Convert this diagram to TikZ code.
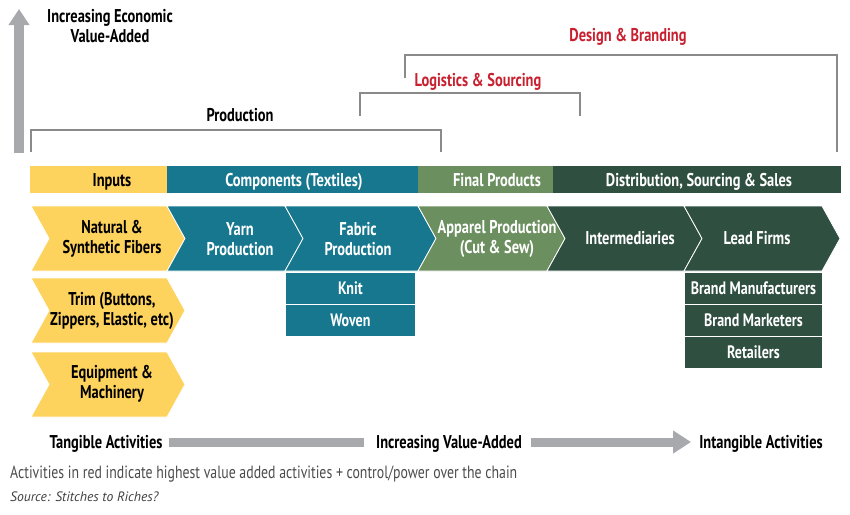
\documentclass[tikz,border=0pt]{standalone}
\usepackage{fontspec}
\setmainfont[FakeStretch=0.78]{PT Sans}
\newfontfamily\plainfont{PT Sans}
\usetikzlibrary{arrows.meta}
\definecolor{cyel}{HTML}{FDD35D}
\definecolor{cteal}{HTML}{16778F}
\definecolor{cgreen}{HTML}{6B8F5F}
\definecolor{cdark}{HTML}{2F4F40}
\definecolor{cred}{HTML}{C8202F}
\definecolor{cgray}{HTML}{A7A9AC}
\definecolor{cbrk}{HTML}{8A8A8A}
\newcommand\chevron[5]{% L R T B color
  \fill[#5,draw=white,line width=0.8pt] (#1,#3) -- (#2,#3) -- (#2+18,{(#3+#4)/2}) -- (#2,#4) -- (#1,#4) -- (#1+18,{(#3+#4)/2}) -- cycle;}
\begin{document}
\begin{tikzpicture}[x=1pt,y=-1pt,
  lbl/.style={font=\fontsize{18.5}{20}\selectfont\bfseries, align=center, inner sep=0pt},
  wlbl/.style={lbl, text=white},
  blbl/.style={lbl, text=black},
  barlbl/.style={font=\fontsize{18.5}{20}\selectfont\bfseries, inner sep=0pt, text height=13pt, text depth=0.5pt},
  brk/.style={draw=cbrk, line width=1.3pt},
  subbox/.style={draw=white, line width=0.8pt, minimum height=32pt, inner sep=0pt, text=white, text height=13pt, text depth=0.5pt, font=\fontsize{18}{20}\selectfont\bfseries}
]
\useasboundingbox (0,0) rectangle (850,514);
% vertical arrow
\coordinate (va1) at (19,153);
\coordinate (va2) at (19,9);
\draw[cgray, line width=10pt, -{Triangle[length=16pt,width=20pt]}] (va1) -- (va2);
\node[font=\fontsize{18.5}{20}\selectfont\bfseries, inner sep=0pt, align=center] (vtitle) at (110,26) {Increasing Economic\\Value-Added};
% brackets
\node[barlbl] (prodl) at (240,115) {Production};
\coordinate (p1) at (31,152); \coordinate (p2) at (31,130); \coordinate (p3) at (441,130); \coordinate (p4) at (441,152);
\draw[brk] (p1) -- (p2) -- (p3) -- (p4);
\node[barlbl, text=cred] (logl) at (478,80) {Logistics \& Sourcing};
\coordinate (l1) at (360,116); \coordinate (l2) at (360,93); \coordinate (l3) at (580,93); \coordinate (l4) at (580,116);
\draw[brk] (l1) -- (l2) -- (l3) -- (l4);
\node[barlbl, text=cred] (desl) at (628,35) {Design \& Branding};
\coordinate (d1) at (405,78); \coordinate (d2) at (405,55); \coordinate (d3) at (837,55); \coordinate (d4) at (837,152);
\draw[brk] (d1) -- (d2) -- (d3) -- (d4);
% top bar
\fill[cyel] (30,166) rectangle (167,193);
\fill[cteal] (167,166) rectangle (418,193);
\fill[cgreen] (418,166) rectangle (553,193);
\fill[cdark] (553,166) rectangle (841,193);
\node[barlbl] (b1) at (112,180) {Inputs};
\node[barlbl, text=white] (b2) at (294,180) {Components (Textiles)};
\node[barlbl, text=white] (b3) at (497,180) {Final Products};
\node[barlbl, text=white] (b4) at (699,180) {Distribution, Sourcing \& Sales};
% chevrons
\chevron{31}{167}{206}{271}{cyel}
\chevron{167}{285}{206}{271}{cteal}
\chevron{285}{418}{206}{271}{cteal}
\chevron{418}{547}{206}{271}{cgreen}
\chevron{547}{684}{206}{271}{cdark}
\chevron{684}{822}{206}{271}{cdark}
\chevron{31}{167}{278}{343}{cyel}
\chevron{31}{167}{352}{417}{cyel}
\node[blbl] (n1) at (112,239) {Natural \&\\Synthetic Fibers};
\node[wlbl] (n2) at (240,239) {Yarn\\Production};
\node[wlbl] (n3) at (358,239) {Fabric\\Production};
\node[wlbl] (n4) at (497,239) {Apparel Production\\(Cut \& Sew)};
\node[wlbl, text height=13pt, text depth=0.5pt] (n5) at (630,238) {Intermediaries};
\node[wlbl, text height=13pt, text depth=0.5pt] (n6) at (757,238) {Lead Firms};
\node[blbl] (n7) at (112,311) {Trim (Buttons,\\Zippers, Elastic, etc)};
\node[blbl] (n8) at (112,384) {Equipment \&\\Machinery};
% sub boxes
\node[subbox, fill=cteal, minimum width=130pt, anchor=north west] (knit) at (285,272) {Knit};
\node[subbox, fill=cteal, minimum width=130pt, anchor=north west] (woven) at (285,304) {Woven};
\node[subbox, fill=cdark, minimum width=138pt, anchor=north west] (bm) at (684,272) {Brand Manufacturers};
\node[subbox, fill=cdark, minimum width=138pt, anchor=north west] (bmk) at (684,304) {Brand Marketers};
\node[subbox, fill=cdark, minimum width=138pt, anchor=north west] (ret) at (684,336) {Retailers};
% bottom arrow
\node[barlbl] (t1) at (106,442) {Tangible Activities};
\node[barlbl] (t2) at (449,442) {Increasing Value-Added};
\node[barlbl] (t3) at (761,442) {Intangible Activities};
\coordinate (ba1) at (169,442); \coordinate (ba2) at (364,442);
\coordinate (ba3) at (531,442); \coordinate (ba4) at (691,442);
\draw[cgray, line width=9pt] (ba1) -- (ba2);
\draw[cgray, line width=9pt, -{Triangle[length=18pt,width=22pt]}] (ba3) -- (ba4);
% footer
\node[anchor=west, inner sep=0pt, text=black!70, font=\fontsize{17.7}{19}\selectfont] (foot) at (10,474) {Activities in red indicate highest value added activities + control/power over the chain};
\node[anchor=west, inner sep=0pt, text=black!75, font=\plainfont\fontsize{13.6}{15}\selectfont\itshape] (src) at (10,497) {Source: Stitches to Riches?};
\end{tikzpicture}
\end{document}
